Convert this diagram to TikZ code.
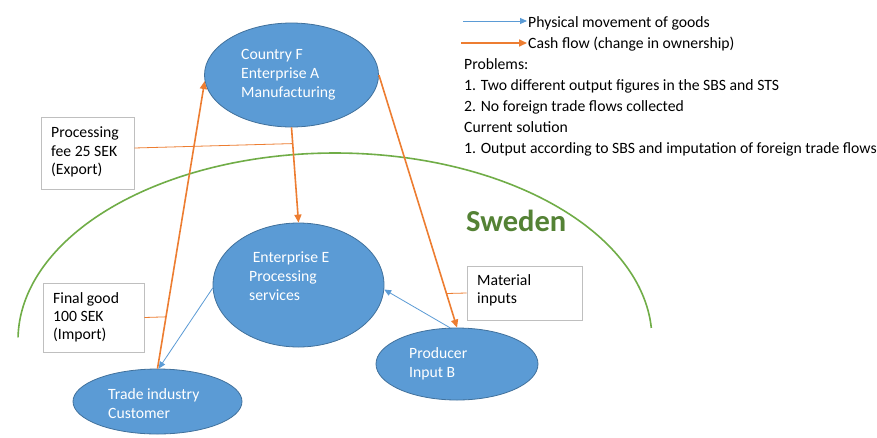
\documentclass[tikz,border=0pt]{standalone}
\usepackage{fontspec}
\setmainfont{Carlito}
\usetikzlibrary{shapes.geometric,arrows.meta,calc}
\definecolor{ellfill}{HTML}{5B9BD5}
\definecolor{ellline}{HTML}{41719C}
\definecolor{cash}{HTML}{ED7D31}
\definecolor{phys}{HTML}{5B9BD5}
\definecolor{swgreen}{HTML}{70AD47}
\definecolor{swtext}{HTML}{548235}
\definecolor{boxline}{RGB}{191,191,191}
\begin{document}
\begin{tikzpicture}[x=1pt,y=-1pt,
  ell/.style={ellipse, draw=ellline, fill=ellfill, line width=0.8pt, inner sep=0pt},
  eltext/.style={anchor=base west, inner sep=0pt, text=white, font=\fontsize{15.7}{19}\selectfont},
  bxtext/.style={anchor=base west, inner sep=0pt, text=black, font=\fontsize{15.7}{19}\selectfont},
  lbox/.style={draw=boxline, line width=0.8pt, fill=white, inner sep=0pt},
  cashflow/.style={draw=cash, line width=1.6pt, -{Triangle[length=8pt,width=7pt]}},
  cashtie/.style={draw=cash, line width=0.8pt},
  physflow/.style={draw=phys, line width=0.8pt, -{Triangle[length=7pt,width=6pt]}}]
\useasboundingbox (0,0) rectangle (877,437);
\fill[white] (0,0) rectangle (877,437);

% Sweden border
\draw[swgreen, line width=1.6pt] plot[domain=3.7:179.2, samples=120, smooth] ({335+317*cos(\x)}, {340-187*sin(\x)});
\node[anchor=base west, inner sep=0pt, text=swtext, font=\fontsize{30.5}{36}\selectfont\bfseries] (sweden) at (466,231) {Sweden};

% ellipses
\node[ell, minimum width=174pt, minimum height=104pt] (F) at (291.5,75) {};
\node[ell, minimum width=171pt, minimum height=124pt] (E) at (298.5,285) {};
\node[ell, minimum width=169pt, minimum height=65pt] (T) at (157.5,401.5) {};
\node[ell, minimum width=162pt, minimum height=72pt] (P) at (457,364) {};

\node[eltext] (F1) at (241,59) {Country F};
\node[eltext] (F2) at (241,78) {Enterprise A};
\node[eltext] (F3) at (241,97) {Manufacturing};
\node[eltext] (E1) at (249,262) {\ Enterprise E};
\node[eltext] (E2) at (249,281) {Processing};
\node[eltext] (E3) at (249,300) {services};
\node[eltext] (T1) at (108,399) {Trade industry};
\node[eltext] (T2) at (108,418) {Customer};
\node[eltext] (P1) at (409,358) {Producer};
\node[eltext] (P2) at (409,377) {Input B};

% boxes
\node[lbox, minimum width=93pt, minimum height=72pt] (pf) at (87.5,153) {};
\node[bxtext] (pf1) at (51,137) {Processing};
\node[bxtext] (pf2) at (51,156) {fee 25 SEK};
\node[bxtext] (pf3) at (51,174) {(Export)};
\node[lbox, minimum width=101pt, minimum height=69pt] (fg) at (93.5,317.5) {};
\node[bxtext] (fg1) at (53,303) {Final good};
\node[bxtext] (fg2) at (53,321) {100 SEK};
\node[bxtext] (fg3) at (53,339) {(Import)};
\node[lbox, minimum width=115pt, minimum height=54pt] (mi) at (524.5,293) {};
\node[bxtext] (mi1) at (477,285) {Material};
\node[bxtext] (mi2) at (477,303) {inputs};

% flows
\draw[cashflow] (T.north) -- (F.184);
\draw[cashflow] (F.south) -- (E.north);
\draw[cashflow] (F.east) -- (P.north);
\draw[physflow] (P.101) -- (E.-3);
\draw[physflow] (E.182) -- (T.88);

% ties from boxes to flows
\coordinate (pfc) at ($(F.south)!0.17!(E.north)$);
\coordinate (fgc) at ($(T.north)!0.18!(F.184)$);
\coordinate (mic) at ($(F.east)!0.865!(P.north)$);
\draw[cashtie] ($(pf.east)+(0,-5)$) -- (pfc);
\draw[cashtie] (fg.east) -- (fgc);
\draw[cashtie] (mi.west) -- (mic);

% legend
\coordinate (lb1) at (463,21);
\coordinate (lb2) at (527,21);
\coordinate (lo1) at (461,43);
\coordinate (lo2) at (527,43);
\draw[physflow, line width=0.9pt] (lb1) -- (lb2);
\draw[cashflow] (lo1) -- (lo2);
\node[bxtext] (L1) at (528,27) {Physical movement of goods};
\node[bxtext] (L2) at (528,48) {Cash flow (change in ownership)};
\node[bxtext] (L3) at (464,69) {Problems:};
\node[bxtext] (L4) at (464,90) {1. Two different output figures in the SBS and STS};
\node[bxtext] (L5) at (464,111) {2. No foreign trade flows collected};
\node[bxtext] (L6) at (464,132) {Current solution};
\node[bxtext] (L7) at (464,153) {1. Output according to SBS and imputation of foreign trade flows};
\end{tikzpicture}
\end{document}
